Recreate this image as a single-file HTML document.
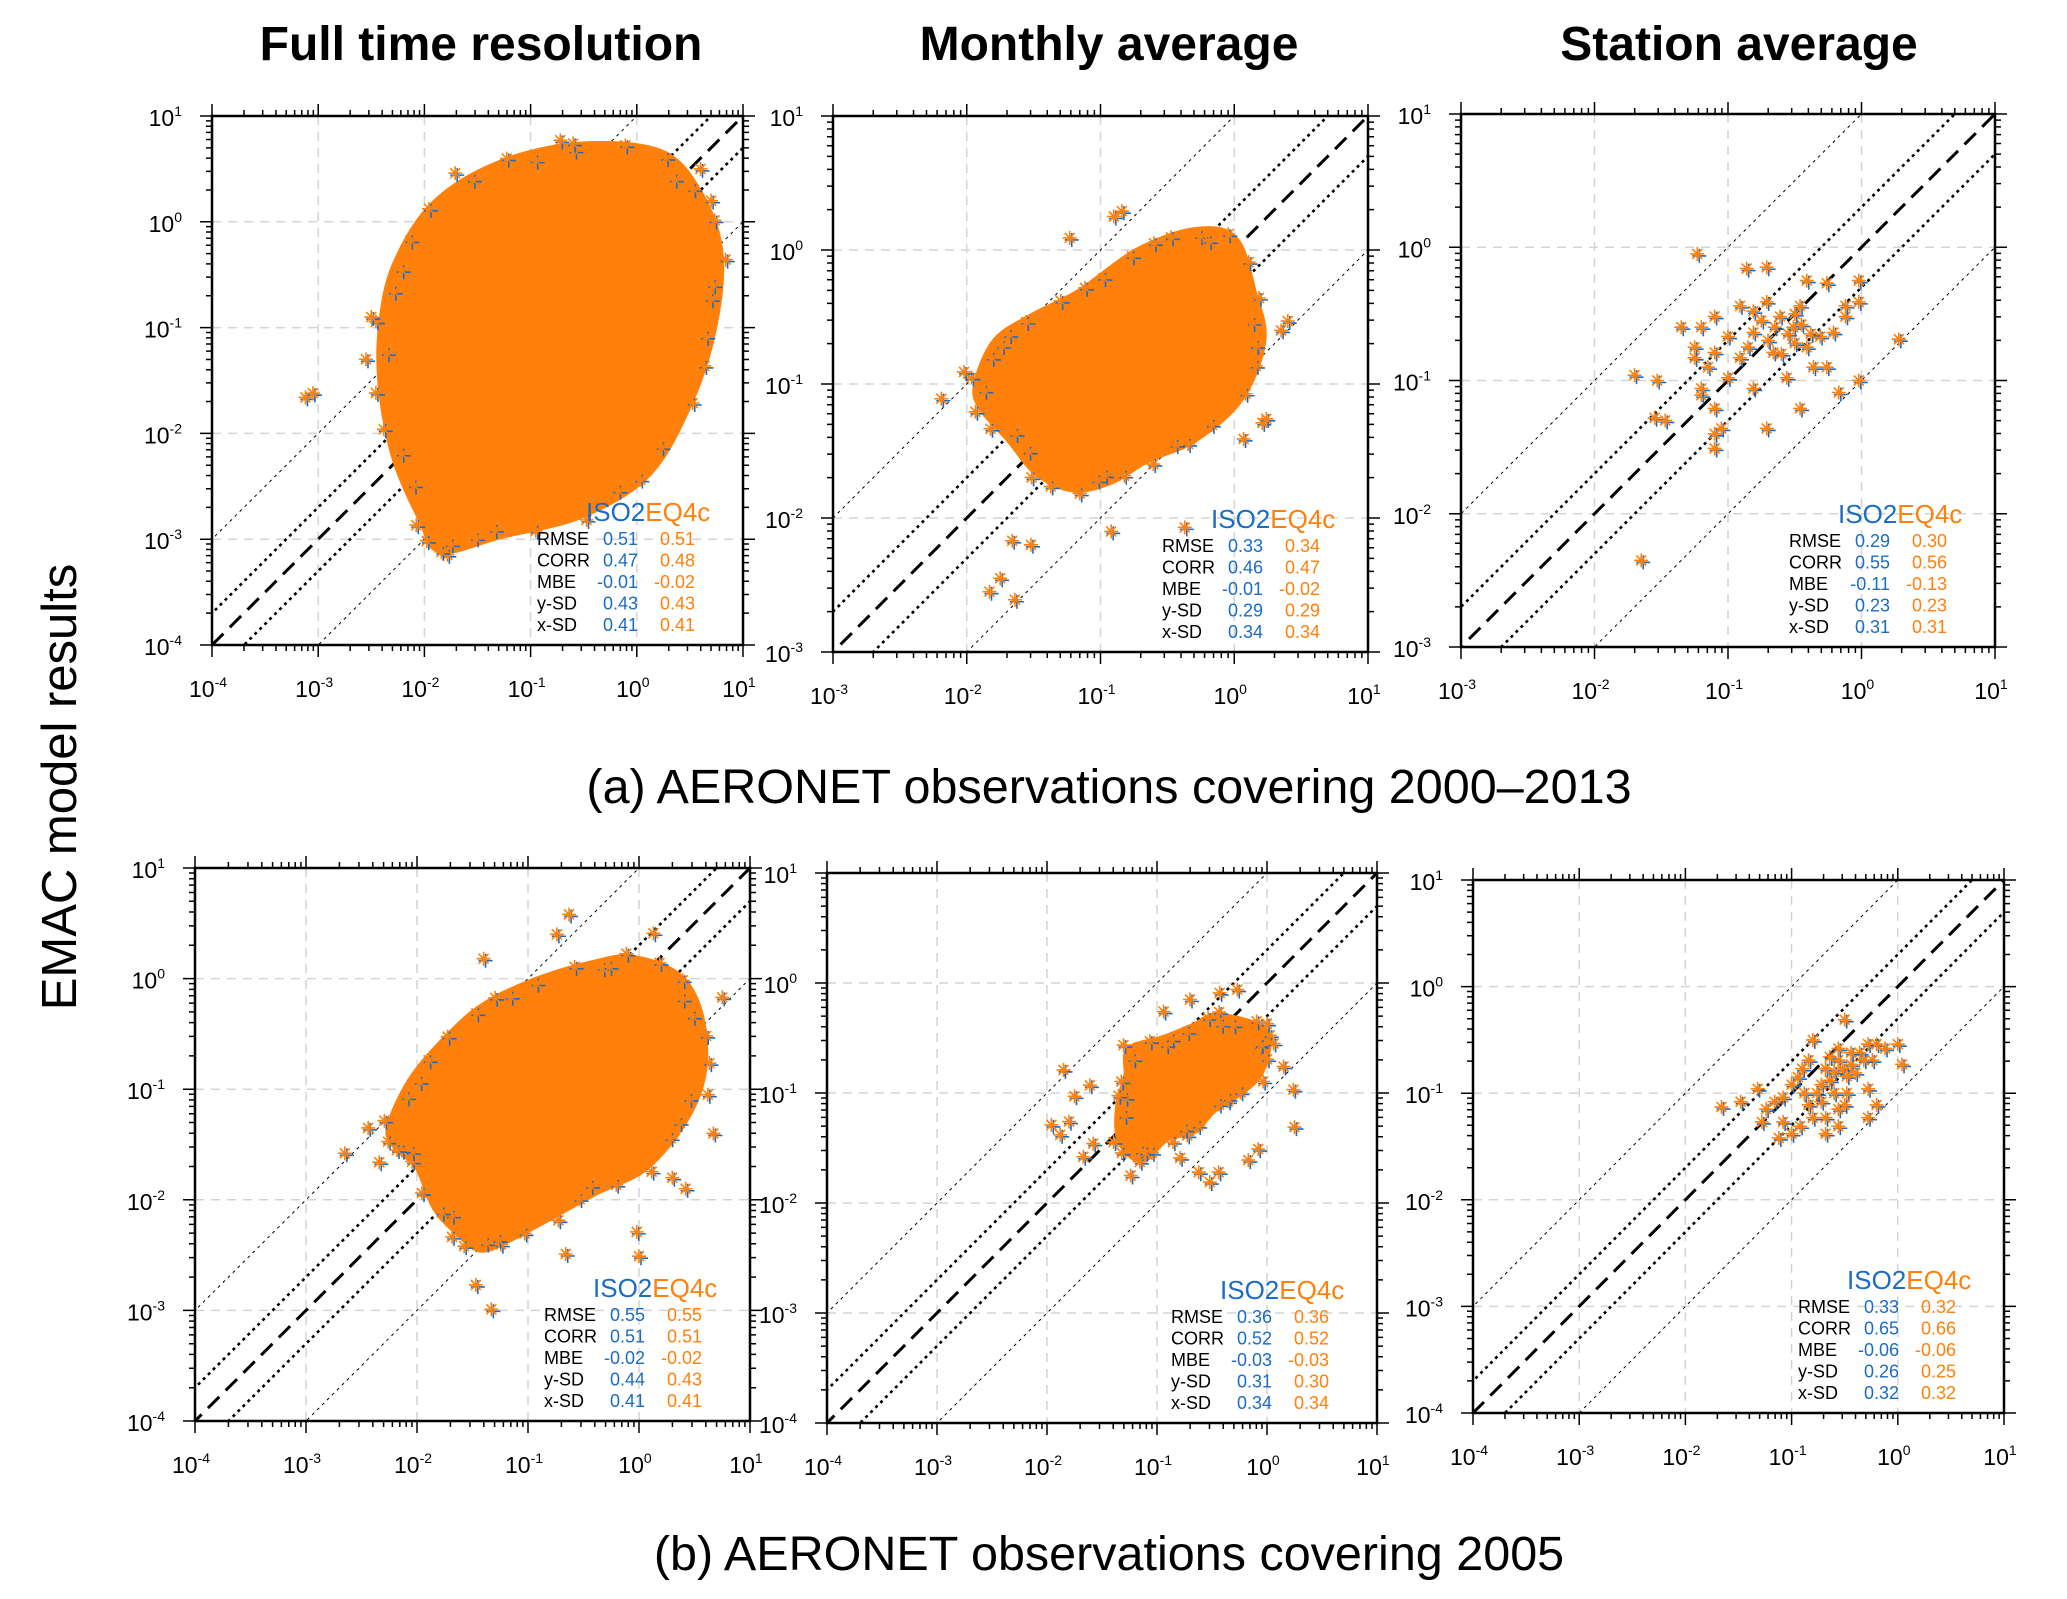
<!DOCTYPE html>
<html><head><meta charset="utf-8">
<style>
html,body{margin:0;padding:0;background:#fff;}
svg{display:block;font-family:"Liberation Sans",Arial,sans-serif;}
</style></head>
<body>
<svg id="fig" width="2067" height="1599" viewBox="0 0 2067 1599" xmlns="http://www.w3.org/2000/svg">
<text x="481" y="60" font-size="48" font-weight="bold" text-anchor="middle">Full time resolution</text>
<text x="1109" y="60" font-size="48" font-weight="bold" text-anchor="middle">Monthly average</text>
<text x="1739" y="60" font-size="48" font-weight="bold" text-anchor="middle">Station average</text>
<text x="0" y="0" font-size="49" text-anchor="middle" transform="translate(76,787) rotate(-90)">EMAC model results</text>
<text x="1109" y="803" font-size="48.5" text-anchor="middle">(a) AERONET observations covering 2000–2013</text>
<text x="1109" y="1570" font-size="48.5" text-anchor="middle">(b) AERONET observations covering 2005</text>
</svg>
<script>
// ---- data (log10 of AOD values) ----
const p1CloudLogX = [-2.40,-2.27,-1.90,-1.28,-0.53,0.22,0.59,0.78,0.71,0.47,0.09,-0.53,-1.28,-1.84,-2.02,-2.27,-2.40];
const p1CloudLogY = [-0.99,-0.41,0.17,0.55,0.72,0.65,0.26,-0.31,-1.04,-1.76,-2.39,-2.77,-2.96,-3.10,-2.82,-2.24,-1.57];
const p1PtsLogX = [-3.12,-3.05,-1.71,-0.72,-0.60,-1.84,-1.75,0.70,0.72,-2.55,-2.50,0.60];
const p1PtsLogY = [-1.66,-1.62,0.46,0.77,0.74,-3.12,-3.05,0.20,-0.60,-1.30,-0.90,0.50];
const p2CloudLogX = [-1.92,-1.78,-1.51,-1.16,-0.72,-0.30,0.00,0.14,0.21,0.04,-0.30,-0.65,-0.92,-1.20,-1.47,-1.68,-1.89];
const p2CloudLogY = [-0.99,-0.68,-0.50,-0.32,-0.01,0.14,0.08,-0.32,-0.68,-1.11,-1.41,-1.56,-1.72,-1.78,-1.66,-1.41,-1.17];
const p2PtsLogX = [-0.84,-0.90,-1.23,-2.02,-2.19,0.40,0.21,-1.66,-1.83,-1.64,-1.52,-0.37,-0.92,0.07,0.24,-1.75,-0.60,0.35];
const p2PtsLogY = [0.29,0.25,0.09,-0.91,-1.11,-0.53,-1.29,-2.17,-2.55,-2.61,-2.20,-2.07,-2.10,-1.41,-1.26,-2.45,0.05,-0.60];
const p3PtsLogX = [-1.23,-0.86,-0.71,-0.41,-0.26,-0.02,-1.35,-1.70,-1.53,-1.55,-1.47,-1.20,-1.10,-1.05,-1.10,-0.71,-0.46,-0.17,-0.02,0.28,-0.26,-0.31,-0.51,-0.81,-1.00,-1.10,-0.91,-0.66,-0.41,-0.21,-0.12,-0.61,-0.81,-1.10,-1.20,-1.25,-1.15,-1.00,-0.81,-0.56,-0.36,-0.12,-0.02,-0.46,-0.71,-0.91,-1.25,-1.20,-1.10,-1.65,-0.55,-0.50,-0.65,-0.45,-0.70,-0.60,-0.38,-0.85,-0.75,-0.50];
const p3PtsLogY = [-0.05,-0.16,-0.15,-0.25,-0.27,-0.25,-0.60,-0.96,-1.00,-1.28,-1.30,-1.11,-1.21,-1.36,-1.51,-1.36,-1.21,-1.09,-1.00,-0.69,-0.90,-0.67,-0.60,-0.64,-0.67,-0.79,-0.83,-0.79,-0.75,-0.64,-0.52,-0.52,-0.48,-0.52,-0.60,-0.83,-0.90,-0.98,-1.06,-0.98,-0.90,-0.44,-0.41,-0.44,-0.41,-0.44,-0.75,-1.06,-1.40,-2.35,-0.65,-0.72,-0.60,-0.58,-0.70,-0.80,-0.65,-0.75,-0.55,-0.50];
const p4CloudLogX = [-2.24,-2.03,-1.67,-1.35,-0.87,-0.38,-0.06,0.34,0.54,0.58,0.42,0.06,-0.38,-0.78,-1.19,-1.43,-1.63,-1.83,-1.99,-2.19];
const p4CloudLogY = [-1.33,-0.89,-0.48,-0.22,0.00,0.14,0.18,0.03,-0.30,-0.81,-1.26,-1.70,-1.92,-2.14,-2.36,-2.44,-2.29,-2.07,-1.70,-1.51];
const p4PtsLogX = [-2.44,-2.65,-2.34,-1.40,-0.63,-0.74,0.13,0.67,0.62,-0.02,0.00,-0.66,-1.33,-1.47,0.42,0.30,0.75,-2.18];
const p4PtsLogY = [-1.35,-1.58,-1.66,0.18,0.58,0.40,0.41,-1.40,-1.05,-2.29,-2.51,-2.49,-2.99,-2.77,-1.90,-1.80,-0.17,-1.55];
const p5CloudLogX = [-1.25,-0.97,-0.67,-0.49,-0.25,-0.03,0.00,-0.09,-0.30,-0.49,-0.67,-0.91,-1.09,-1.21,-1.34,-1.34,-1.27];
const p5CloudLogY = [-0.61,-0.52,-0.40,-0.31,-0.34,-0.43,-0.61,-0.85,-1.03,-1.15,-1.34,-1.40,-1.58,-1.58,-1.40,-1.09,-0.85];
const p5PtsLogX = [-1.85,-1.75,-1.96,-1.80,-1.88,-1.61,-0.94,-0.70,-0.43,-0.27,0.15,0.24,0.25,-0.08,-0.17,-0.44,-0.52,-0.62,-1.24,-1.67,-1.58,-0.79,0.00,0.06];
const p5PtsLogY = [-0.79,-1.03,-1.29,-1.26,-1.38,-0.93,-0.26,-0.15,-0.09,-0.06,-0.76,-0.97,-1.31,-1.51,-1.61,-1.72,-1.81,-1.72,-1.75,-1.58,-1.46,-1.59,-0.37,-0.55];
const p6PtsLogX = [-1.66,-1.48,-1.32,-1.24,-1.28,-1.16,-1.08,-1.00,-0.94,-0.90,-0.84,-0.80,-0.50,-0.72,-0.68,-0.64,-0.56,-0.52,-0.44,-0.36,-0.28,-0.20,-0.12,0.00,0.04,-0.24,-0.28,-0.48,-0.56,-0.68,-0.80,-0.92,-1.08,-1.12,-1.00,-0.84,-0.72,-0.60,-0.48,-0.40,-0.50,-0.28,-0.20,-0.56,-0.68,-0.76,-0.88,-0.64,-0.44,-0.32,-0.56,-0.60];
const p6PtsLogY = [-1.13,-1.08,-0.96,-1.15,-1.27,-1.08,-1.04,-0.92,-0.85,-0.77,-0.69,-0.50,-0.31,-0.92,-0.77,-0.66,-0.69,-0.77,-0.73,-0.62,-0.54,-0.54,-0.58,-0.54,-0.73,-0.69,-0.96,-1.00,-1.15,-1.23,-1.23,-1.31,-1.27,-1.42,-1.38,-1.11,-1.08,-1.00,-0.84,-0.81,-1.11,-1.23,-1.11,-1.31,-1.38,-1.00,-1.00,-0.88,-0.62,-0.69,-0.58,-0.80];
const statNames = ["RMSE","CORR","MBE","y-SD","x-SD"];
const p1StatsIso = ["0.51","0.47","-0.01","0.43","0.41"], p1StatsEq = ["0.51","0.48","-0.02","0.43","0.41"];
const p2StatsIso = ["0.33","0.46","-0.01","0.29","0.34"], p2StatsEq = ["0.34","0.47","-0.02","0.29","0.34"];
const p3StatsIso = ["0.29","0.55","-0.11","0.23","0.31"], p3StatsEq = ["0.30","0.56","-0.13","0.23","0.31"];
const p4StatsIso = ["0.55","0.51","-0.02","0.44","0.41"], p4StatsEq = ["0.55","0.51","-0.02","0.43","0.41"];
const p5StatsIso = ["0.36","0.52","-0.03","0.31","0.34"], p5StatsEq = ["0.36","0.52","-0.03","0.30","0.34"];
const p6StatsIso = ["0.33","0.65","-0.06","0.26","0.32"], p6StatsEq = ["0.32","0.66","-0.06","0.25","0.32"];

const NS = "http://www.w3.org/2000/svg";
const svg = document.getElementById('fig');
const BLUE = "#1a6cc4", ORANGE = "#ff800a";
function mk(tag, attrs, parent){ const e=document.createElementNS(NS,tag); for(const k in attrs) e.setAttribute(k,attrs[k]); (parent||svg).appendChild(e); return e; }

const panels = [
 {x0:212,x1:743,y0:116,y1:645,xmin:-4,xmax:1,ymin:-4,ymax:1,cx:p1CloudLogX,cy:p1CloudLogY,px:p1PtsLogX,py:p1PtsLogY,si:p1StatsIso,se:p1StatsEq},
 {x0:833,x1:1368,y0:116,y1:652,xmin:-3,xmax:1,ymin:-3,ymax:1,cx:p2CloudLogX,cy:p2CloudLogY,px:p2PtsLogX,py:p2PtsLogY,si:p2StatsIso,se:p2StatsEq},
 {x0:1461,x1:1995,y0:114,y1:647,xmin:-3,xmax:1,ymin:-3,ymax:1,cx:null,cy:null,px:p3PtsLogX,py:p3PtsLogY,si:p3StatsIso,se:p3StatsEq},
 {x0:195,x1:750,y0:868,y1:1421,xmin:-4,xmax:1,ymin:-4,ymax:1,cx:p4CloudLogX,cy:p4CloudLogY,px:p4PtsLogX,py:p4PtsLogY,si:p4StatsIso,se:p4StatsEq},
 {x0:827,x1:1377,y0:873,y1:1423,xmin:-4,xmax:1,ymin:-4,ymax:1,cx:p5CloudLogX,cy:p5CloudLogY,px:p5PtsLogX,py:p5PtsLogY,si:p5StatsIso,se:p5StatsEq},
 {x0:1473,x1:2004,y0:880,y1:1413,xmin:-4,xmax:1,ymin:-4,ymax:1,cx:null,cy:null,px:p6PtsLogX,py:p6PtsLogY,si:p6StatsIso,se:p6StatsEq}
];

function marker(g,x,y){
  const r=7;
  const b=mk('path',{d:`M${x-r+2} ${y+2}H${x+r+2}M${x+2} ${y-r+2}V${y+r+2}`,stroke:BLUE,'stroke-width':1.6,fill:'none'},g);
  
  
  const d=`M${x-r} ${y}H${x+r}M${x} ${y-r}V${y+r}M${x-5} ${y-5}L${x+5} ${y+5}M${x-5} ${y+5}L${x+5} ${y-5}`;
  const o=mk('path',{d:d,stroke:ORANGE,'stroke-width':1.6,fill:'none'},g);
  
  
}

function smoothPath(P){
  const n=P.length; let d=`M${P[0][0].toFixed(1)} ${P[0][1].toFixed(1)}`;
  for(let i=0;i<n;i++){
    const p0=P[(i-1+n)%n],p1=P[i],p2=P[(i+1)%n],p3=P[(i+2)%n];
    const c1=[p1[0]+(p2[0]-p0[0])/6,p1[1]+(p2[1]-p0[1])/6];
    const c2=[p2[0]-(p3[0]-p1[0])/6,p2[1]-(p3[1]-p1[1])/6];
    d+=`C${c1[0].toFixed(1)} ${c1[1].toFixed(1)} ${c2[0].toFixed(1)} ${c2[1].toFixed(1)} ${p2[0].toFixed(1)} ${p2[1].toFixed(1)}`;
  }
  return d+'Z';
}

panels.forEach((p,idx)=>{
  const sx=v=>p.x0+(v-p.xmin)/(p.xmax-p.xmin)*(p.x1-p.x0);
  const sy=v=>p.y1-(v-p.ymin)/(p.ymax-p.ymin)*(p.y1-p.y0);
  const g=mk('g',{});
  
  
  const clipId='clip'+idx;
  const cp=mk('clipPath',{id:clipId},g);
  mk('rect',{x:p.x0,y:p.y0,width:p.x1-p.x0,height:p.y1-p.y0},cp);
  for(let e=p.xmin+1;e<p.xmax;e++){
    const gl=mk('line',{x1:sx(e),x2:sx(e),y1:p.y0,y2:p.y1,stroke:'#d4d4d4','stroke-width':1.5,'stroke-dasharray':'9 7'},g);
    
    
  }
  for(let e=p.ymin+1;e<p.ymax;e++){
    const gl=mk('line',{x1:p.x0,x2:p.x1,y1:sy(e),y2:sy(e),stroke:'#d4d4d4','stroke-width':1.5,'stroke-dasharray':'9 7'},g);
    
    
  }
  const inner=mk('g',{'clip-path':`url(#${clipId})`},g);
  const refs=[[0,3,'16 9','one-to-one-line'],[Math.log10(2),2.6,'3 4','factor-2-upper-line'],[-Math.log10(2),2.6,'3 4','factor-2-lower-line'],[1,1,'3 4','factor-10-upper-line'],[-1,1,'3 4','factor-10-lower-line']];
  refs.forEach(r=>{
    const a=p.xmin-1, b=p.xmax+1;
    const l=mk('line',{x1:sx(a),y1:sy(a+r[0]),x2:sx(b),y2:sy(b+r[0]),stroke:'#000','stroke-width':r[1],'stroke-dasharray':r[2]},inner);
    
    
  });
  if(p.cx){
    const P=p.cx.map((v,i)=>[sx(v),sy(p.cy[i])]);
    const c=mk('path',{d:smoothPath(P),fill:ORANGE,stroke:ORANGE,'stroke-width':8,'stroke-linejoin':'round'},inner);
    
    
    p.cx.forEach((v,i)=>{
      const j=(i+1)%p.cx.length;
      marker(inner,sx(v)+(i%2?6:-6),sy(p.cy[i])+(i%3?5:-5));
      marker(inner,(sx(v)+sx(p.cx[j]))/2+(i%2?-5:5),(sy(p.cy[i])+sy(p.cy[j]))/2+(i%2?6:-4));
    });
  }
  p.px.forEach((v,i)=>marker(inner,sx(v),sy(p.py[i])));
  const fr=mk('rect',{x:p.x0,y:p.y0,width:p.x1-p.x0,height:p.y1-p.y0,fill:'none',stroke:'#000','stroke-width':2.5},g);
  
  
  let td='';
  for(let e=p.xmin;e<=p.xmax;e++){
    const x=sx(e); td+=`M${x} ${p.y1}v12M${x} ${p.y0}v-12`;
    if(e<p.xmax) for(let m=2;m<=9;m++){const xm=sx(e+Math.log10(m)); td+=`M${xm} ${p.y1}v6M${xm} ${p.y0}v-6`;}
  }
  for(let e=p.ymin;e<=p.ymax;e++){
    const y=sy(e); td+=`M${p.x0} ${y}h-12M${p.x1} ${y}h12`;
    if(e<p.ymax) for(let m=2;m<=9;m++){const ym=sy(e+Math.log10(m)); td+=`M${p.x0} ${ym}h-6M${p.x1} ${ym}h6`;}
  }
  const tk=mk('path',{d:td,stroke:'#000','stroke-width':1.5,fill:'none'},g);
  
  
  for(let e=p.xmin;e<=p.xmax;e++){
    const t=mk('text',{x:sx(e)-4,y:p.y1+52,'font-size':23,'text-anchor':'middle'},g);
    
    
    t.innerHTML=`10<tspan font-size="14" dy="-10">${e}</tspan>`;
  }
  for(let e=p.ymin;e<=p.ymax;e++){
    const t=mk('text',{x:p.x0-30,y:sy(e)+10,'font-size':23,'text-anchor':'end'},g);
    
    
    t.innerHTML=`10<tspan font-size="14" dy="-10">${e}</tspan>`;
  }
  const st=mk('g',{},g);
  
  
  const h=mk('text',{x:p.x1-157,y:p.y1-124,'font-size':26},st);
  
  
  h.innerHTML=`<tspan fill="${BLUE}">ISO2</tspan><tspan fill="${ORANGE}">EQ4c</tspan>`;
  statNames.forEach((n,i)=>{
    const y=p.y1-100+i*21.5;
    const a=mk('text',{x:p.x1-206,y:y,'font-size':18,fill:'#000'},st); a.textContent=n;
    
    
    const b=mk('text',{x:p.x1-105,y:y,'font-size':18,fill:BLUE,'text-anchor':'end'},st); b.textContent=p.si[i];
    
    
    const c=mk('text',{x:p.x1-48,y:y,'font-size':18,fill:ORANGE,'text-anchor':'end'},st); c.textContent=p.se[i];
    
    
  });
});
</script>
</body></html>
